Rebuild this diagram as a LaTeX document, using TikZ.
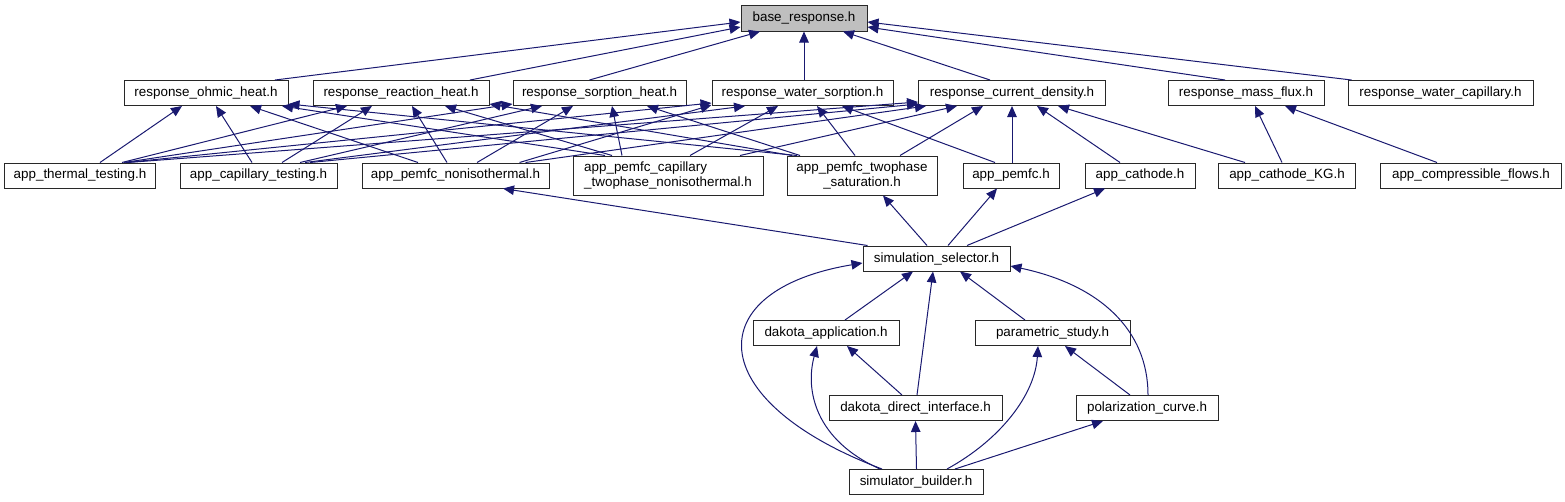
\documentclass[tikz,border=0pt]{standalone}
\usepackage{fontspec}
\setmainfont{Liberation Sans}
\usetikzlibrary{arrows.meta}
\definecolor{edgecol}{RGB}{25,25,112}
\definecolor{basefill}{RGB}{191,191,191}
\definecolor{boxline}{RGB}{40,40,40}
\begin{document}
\begin{tikzpicture}[x=1pt,y=-1pt,
 box/.style={draw=boxline,line width=1pt,fill=white,inner sep=0pt,minimum height=25pt,font=\fontsize{13.4}{15.5}\selectfont},
 tallbox/.style={box,minimum height=39pt},
 edge/.style={draw=edgecol,line width=1pt,-{Triangle[length=11pt,width=9.5pt]}}]
\useasboundingbox (0,0) rectangle (1565,501);
% nodes
\node[box,fill=basefill,minimum width=126pt,minimum height=26pt] (base) at (804,18) {base\_response.h};
\node[box,minimum width=164pt] (ohmic) at (206,93) {response\_ohmic\_heat.h};
\node[box,minimum width=176pt] (reaction) at (401,93) {response\_reaction\_heat.h};
\node[box,minimum width=173pt] (sorption) at (599.5,93) {response\_sorption\_heat.h};
\node[box,minimum width=181pt] (water) at (802.5,93) {response\_water\_sorption.h};
\node[box,minimum width=187pt] (current) at (1012,93) {response\_current\_density.h};
\node[box,minimum width=156pt] (massflux) at (1246,93) {response\_mass\_flux.h};
\node[box,minimum width=185pt] (watercap) at (1440.5,93) {response\_water\_capillary.h};
\node[box,minimum width=151pt] (thermal) at (80,175.5) {app\_thermal\_testing.h};
\node[box,minimum width=157pt] (captest) at (258.5,175.5) {app\_capillary\_testing.h};
\node[box,minimum width=187pt] (noniso) at (455.5,175.5) {app\_pemfc\_nonisothermal.h};
\node[tallbox,minimum width=190pt,align=left] (captwo) at (668,175.5) {app\_pemfc\_capillary\\\_twophase\_nonisothermal.h};
\node[tallbox,minimum width=150pt,align=center] (twosat) at (862,175.5) {app\_pemfc\_twophase\\\_saturation.h};
\node[box,minimum width=96pt] (pemfc) at (1011,175.5) {app\_pemfc.h};
\node[box,minimum width=110pt] (cathode) at (1140,175.5) {app\_cathode.h};
\node[box,minimum width=137pt] (cathkg) at (1287,175.5) {app\_cathode\_KG.h};
\node[box,minimum width=181pt] (compflow) at (1471,175.5) {app\_compressible\_flows.h};
\node[box,minimum width=147pt] (simsel) at (936.5,258.5) {simulation\_selector.h};
\node[box,minimum width=146pt] (dakapp) at (826,333) {dakota\_application.h};
\node[box,minimum width=155pt] (param) at (1052.5,333) {parametric\_study.h};
\node[box,minimum width=173pt] (dakdir) at (915.5,408) {dakota\_direct\_interface.h};
\node[box,minimum width=142pt] (polar) at (1147,408) {polarization\_curve.h};
\node[box,minimum width=134pt] (builder) at (916,482) {simulator\_builder.h};
% edges to base
\draw[edge] ([xshift=69pt]ohmic.north) -- ([yshift=-4pt]base.west);
\draw[edge] ([xshift=69pt]reaction.north) -- ([yshift=-9pt]base.west);
\draw[edge] ([xshift=-10pt]sorption.north) -- ([xshift=-44pt]base.south);
\draw[edge] ([xshift=1.5pt]water.north) -- (base.south);
\draw[edge] ([xshift=-22pt]current.north) -- ([xshift=39pt]base.south);
\draw[edge] ([xshift=-21pt]massflux.north) -- ([yshift=-9pt]base.east);
\draw[edge] ([xshift=4pt]watercap.north west) -- ([yshift=-4pt]base.east);
% to ohmic
\draw[edge] ([xshift=20pt]thermal.north) -- ([xshift=-24pt]ohmic.south);
\draw[edge] ([xshift=-6.5pt]captest.north) -- ([xshift=10pt]ohmic.south);
\draw[edge] ([xshift=-37.5pt]noniso.north) -- ([xshift=44pt]ohmic.south);
\draw[edge] ([xshift=-63pt]captwo.north) -- ([xshift=76pt]ohmic.south);
\draw[edge] ([xshift=-65pt]twosat.north) -- ([yshift=2pt]ohmic.south east);
% to reaction
\draw[edge] ([xshift=42pt]thermal.north) -- ([xshift=-54pt]reaction.south);
\draw[edge] ([xshift=23.5pt]captest.north) -- ([xshift=-29pt]reaction.south);
\draw[edge] ([xshift=-8.5pt]noniso.north) -- ([xshift=11pt]reaction.south);
\draw[edge] ([xshift=-56pt]captwo.north) -- ([xshift=44pt]reaction.south);
\draw[edge] ([xshift=-70pt]twosat.north) -- ([yshift=2pt]reaction.south east);
% to sorption
\draw[edge] ([xshift=44pt]thermal.north) -- ([yshift=2pt]sorption.south west);
\draw[edge] ([xshift=41.5pt]captest.north) -- ([xshift=-57.5pt]sorption.south);
\draw[edge] ([xshift=21.5pt]noniso.north) -- ([xshift=-26.5pt]sorption.south);
\draw[edge] ([xshift=-46pt]captwo.north) -- ([xshift=12.5pt]sorption.south);
\draw[edge] ([xshift=-62pt]twosat.north) -- ([xshift=47.5pt]sorption.south);
% to water sorption
\draw[edge] ([xshift=46pt]thermal.north) -- ([yshift=3pt]water.south west);
\draw[edge] ([xshift=46.5pt]captest.north) -- ([xshift=-57.5pt]water.south);
\draw[edge] ([xshift=64pt]noniso.north) -- ([yshift=1pt]water.south west);
\draw[edge] ([xshift=22pt]captwo.north) -- ([xshift=-24.5pt]water.south);
\draw[edge] ([xshift=-7pt]twosat.north) -- ([xshift=14.5pt]water.south);
\draw[edge] ([xshift=-16pt]pemfc.north) -- ([xshift=39.5pt]water.south);
% to current density
\draw[edge] ([xshift=48pt]thermal.north) -- ([yshift=4pt]current.south west);
\draw[edge] ([xshift=51.5pt]captest.north) -- ([yshift=2pt]current.south west);
\draw[edge] ([xshift=70pt]noniso.north) -- ([xshift=8pt]current.south west);
\draw[edge] ([xshift=72pt]captwo.north) -- ([xshift=-55pt]current.south);
\draw[edge] ([xshift=38pt]twosat.north) -- ([xshift=-29pt]current.south);
\draw[edge] ([xshift=1pt]pemfc.north) -- (current.south);
\draw[edge] ([xshift=-20pt]cathode.north) -- ([xshift=25pt]current.south);
\draw[edge] ([xshift=-42pt]cathkg.north) -- ([xshift=46pt]current.south);
% to mass flux
\draw[edge] ([xshift=-5pt]cathkg.north) -- ([xshift=9pt]massflux.south);
\draw[edge] ([xshift=-34pt]compflow.north) -- ([xshift=39pt]massflux.south);
% simulation selector to apps
\draw[edge] ([xshift=5pt]simsel.north west) -- ([xshift=47.5pt]noniso.south);
\draw[edge] ([xshift=-9.5pt]simsel.north) -- ([xshift=21pt]twosat.south);
\draw[edge] ([xshift=11.5pt]simsel.north) -- ([xshift=-14pt]pemfc.south);
\draw[edge] ([xshift=30.5pt]simsel.north) -- ([xshift=-35pt]cathode.south);
% lower part
\draw[edge] ([xshift=19pt]dakapp.north) -- ([xshift=-23.5pt]simsel.south);
\draw[edge] ([xshift=1.5pt]dakdir.north) -- ([xshift=-3.5pt]simsel.south);
\draw[edge] ([xshift=-27.5pt]param.north) -- ([xshift=23.5pt]simsel.south);
\draw[edge] ([xshift=-13.5pt]dakdir.north) -- ([xshift=21pt]dakapp.south);
\draw[edge] ([xshift=-17pt]polar.north) -- ([xshift=12.5pt]param.south);
\draw[edge] ([xshift=1pt]polar.north) .. controls (1148,330) and (1100,285) .. ([yshift=-7.5pt]simsel.east);
\draw[edge] ([xshift=-34pt]builder.north) .. controls (700,400) and (700,290) .. ([yshift=-4.5pt]simsel.west);
\draw[edge] ([xshift=-36pt]builder.north) .. controls (815,440) and (805,390) .. ([xshift=-9pt]dakapp.south);
\draw[edge] ([xshift=0.5pt]builder.north) -- (dakdir.south);
\draw[edge] ([xshift=31pt]builder.north) .. controls (1000,440) and (1035,395) .. ([xshift=-14.5pt]param.south);
\draw[edge] ([xshift=39pt]builder.north) -- ([xshift=-44pt]polar.south);
\end{tikzpicture}
\end{document}
